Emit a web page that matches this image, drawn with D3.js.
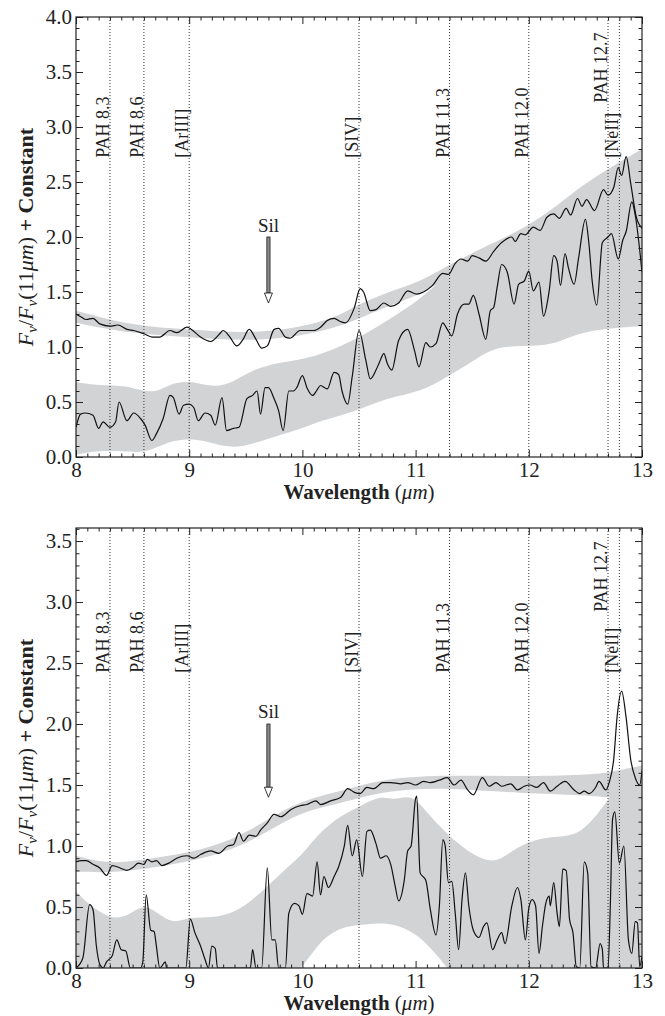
<!DOCTYPE html>
<html>
<head>
<meta charset="utf-8">
<script src="https://cdn.jsdelivr.net/npm/d3@7"></script>
<style>
  body { margin: 0; background: #fff; }
</style>
</head>
<body>
<div id="chart"></div>
<script>
// ---- data ----
const lineWaves = [8.3, 8.6, 9.0, 10.5, 11.3, 12.0, 12.7, 12.8];
const lineNames = ["PAH 8.3", "PAH 8.6", "[ArIII]", "[SIV]", "PAH 11.3", "PAH 12.0", "PAH 12.7", "[NeII]"];
const xTicks = [8, 9, 10, 11, 12, 13];
const silWave = 9.7;

// top panel: spectra [wavelength, flux]
const topUpper = [[8.0,1.30],[8.05,1.27],[8.09,1.25],[8.15,1.26],[8.21,1.21],[8.3,1.19],[8.37,1.20],[8.45,1.16],[8.51,1.15],[8.6,1.12],[8.68,1.09],[8.74,1.09],[8.83,1.15],[8.89,1.13],[8.98,1.18],[9.02,1.16],[9.1,1.09],[9.19,1.05],[9.27,1.12],[9.3,1.15],[9.36,1.09],[9.42,1.01],[9.47,1.06],[9.53,1.16],[9.59,1.07],[9.64,0.99],[9.69,1.01],[9.75,1.16],[9.79,1.17],[9.85,1.09],[9.89,1.08],[9.98,1.15],[10.1,1.15],[10.16,1.18],[10.22,1.24],[10.28,1.26],[10.34,1.23],[10.38,1.22],[10.46,1.36],[10.51,1.53],[10.54,1.50],[10.6,1.33],[10.65,1.34],[10.72,1.40],[10.78,1.37],[10.85,1.40],[10.93,1.51],[11.01,1.48],[11.07,1.50],[11.15,1.56],[11.24,1.67],[11.29,1.66],[11.35,1.76],[11.4,1.80],[11.46,1.78],[11.5,1.83],[11.56,1.81],[11.62,1.78],[11.69,1.87],[11.76,1.95],[11.85,2.0],[11.88,1.96],[11.93,2.03],[11.97,2.02],[12.04,2.09],[12.1,2.06],[12.16,2.18],[12.22,2.21],[12.27,2.17],[12.33,2.26],[12.37,2.20],[12.43,2.35],[12.47,2.28],[12.51,2.34],[12.58,2.24],[12.66,2.43],[12.7,2.38],[12.75,2.45],[12.79,2.63],[12.82,2.56],[12.86,2.73],[12.9,2.49],[12.95,2.18],[13.0,2.08]];
const topLower = [[8.0,0.27],[8.04,0.39],[8.08,0.40],[8.15,0.38],[8.2,0.26],[8.24,0.32],[8.3,0.27],[8.35,0.32],[8.38,0.50],[8.45,0.33],[8.51,0.40],[8.57,0.35],[8.61,0.29],[8.67,0.15],[8.71,0.21],[8.77,0.35],[8.83,0.56],[8.86,0.54],[8.91,0.39],[8.95,0.47],[9.0,0.48],[9.04,0.45],[9.08,0.33],[9.14,0.40],[9.19,0.38],[9.23,0.29],[9.29,0.54],[9.33,0.24],[9.39,0.26],[9.44,0.27],[9.51,0.53],[9.56,0.56],[9.6,0.60],[9.63,0.39],[9.67,0.63],[9.7,0.63],[9.75,0.53],[9.79,0.42],[9.83,0.24],[9.88,0.60],[9.92,0.60],[9.95,0.63],[10.0,0.74],[10.04,0.63],[10.09,0.56],[10.13,0.61],[10.16,0.65],[10.22,0.62],[10.28,0.77],[10.32,0.75],[10.35,0.60],[10.4,0.48],[10.44,0.73],[10.5,1.15],[10.56,0.88],[10.6,0.71],[10.65,0.79],[10.68,0.86],[10.72,0.94],[10.75,0.85],[10.79,0.79],[10.85,1.06],[10.93,1.16],[10.99,0.97],[11.03,0.82],[11.09,1.04],[11.13,1.0],[11.18,1.03],[11.24,1.22],[11.28,1.16],[11.32,1.10],[11.37,1.30],[11.43,1.39],[11.47,1.39],[11.51,1.47],[11.56,1.30],[11.62,1.07],[11.66,1.33],[11.69,1.36],[11.72,1.54],[11.76,1.75],[11.81,1.68],[11.87,1.39],[11.91,1.57],[11.96,1.60],[12.0,1.69],[12.04,1.51],[12.09,1.59],[12.13,1.28],[12.18,1.51],[12.22,1.83],[12.25,1.78],[12.28,1.56],[12.32,1.85],[12.35,1.72],[12.4,1.57],[12.44,1.81],[12.5,2.16],[12.53,1.95],[12.56,1.60],[12.6,1.38],[12.65,1.95],[12.7,2.0],[12.73,2.03],[12.79,1.80],[12.83,1.97],[12.86,2.05],[12.91,2.32],[12.94,2.20],[13.0,1.68]];
// top panel: envelopes [wavelength, low, high]
const topUpperBand = [[8.0,1.22,1.33],[8.5,1.12,1.19],[9.0,1.09,1.16],[9.5,1.05,1.12],[10.0,1.10,1.18],[10.3,1.18,1.27],[10.46,1.24,1.37],[10.75,1.37,1.50],[11.04,1.47,1.59],[11.3,1.65,1.75],[11.63,1.75,1.92],[12.0,1.85,2.10],[12.27,1.95,2.30],[12.46,2.0,2.46],[12.73,2.1,2.64],[13.0,2.2,2.80]];
const topLowerBand = [[8.0,0.02,0.68],[8.2,0.06,0.65],[8.45,0.05,0.65],[8.6,0.04,0.59],[8.74,0.10,0.60],[8.86,0.15,0.68],[9.04,0.17,0.69],[9.22,0.12,0.63],[9.39,0.08,0.68],[9.57,0.12,0.80],[9.8,0.20,0.86],[10.0,0.26,0.89],[10.16,0.33,0.93],[10.46,0.41,1.06],[10.75,0.54,1.24],[11.04,0.59,1.43],[11.28,0.73,1.66],[11.49,0.86,1.80],[11.69,1.0,1.92],[11.93,1.01,2.0],[12.22,1.01,2.15],[12.46,1.15,2.3],[13.0,1.19,2.6]];

// bottom panel: spectra
const botUpper = [[8.0,0.87],[8.05,0.88],[8.09,0.88],[8.15,0.85],[8.21,0.82],[8.27,0.76],[8.32,0.84],[8.39,0.82],[8.45,0.80],[8.51,0.83],[8.55,0.86],[8.6,0.85],[8.63,0.89],[8.67,0.87],[8.71,0.88],[8.76,0.84],[8.82,0.86],[8.89,0.90],[8.98,0.92],[9.04,0.90],[9.1,0.93],[9.19,0.96],[9.26,0.94],[9.34,1.0],[9.39,1.01],[9.44,1.11],[9.48,1.04],[9.53,1.09],[9.59,1.08],[9.63,1.13],[9.69,1.19],[9.75,1.26],[9.81,1.24],[9.9,1.30],[9.98,1.33],[10.04,1.34],[10.12,1.37],[10.16,1.34],[10.25,1.37],[10.34,1.40],[10.4,1.47],[10.46,1.44],[10.51,1.43],[10.57,1.48],[10.63,1.47],[10.71,1.52],[10.78,1.52],[10.87,1.51],[10.93,1.52],[11.0,1.50],[11.07,1.53],[11.13,1.52],[11.21,1.54],[11.28,1.56],[11.34,1.50],[11.4,1.54],[11.46,1.46],[11.51,1.42],[11.59,1.56],[11.65,1.49],[11.71,1.52],[11.76,1.49],[11.84,1.51],[11.9,1.46],[11.96,1.49],[12.01,1.50],[12.07,1.48],[12.13,1.52],[12.19,1.45],[12.25,1.49],[12.32,1.53],[12.4,1.46],[12.45,1.43],[12.49,1.45],[12.53,1.43],[12.59,1.48],[12.62,1.53],[12.68,1.46],[12.71,1.52],[12.75,1.71],[12.78,2.06],[12.82,2.27],[12.86,2.05],[12.9,1.71],[12.94,1.56],[12.98,1.50],[13.0,1.62]];
const botLower = [[8.0,0.0],[8.06,0.08],[8.12,0.52],[8.15,0.48],[8.18,0.18],[8.21,0.03],[8.24,0.0],[8.27,0.05],[8.32,0.10],[8.36,0.23],[8.4,0.15],[8.44,0.14],[8.48,0.0],[8.57,0.0],[8.59,0.05],[8.62,0.60],[8.66,0.31],[8.69,0.30],[8.71,0.18],[8.74,0.0],[8.79,0.05],[8.8,0.0],[8.97,0.0],[9.01,0.40],[9.05,0.29],[9.1,0.18],[9.14,0.07],[9.17,0.0],[9.2,0.18],[9.23,0.16],[9.25,0.0],[9.54,0.0],[9.56,0.15],[9.59,0.0],[9.64,0.0],[9.69,0.82],[9.73,0.23],[9.76,0.23],[9.79,0.0],[9.85,0.0],[9.88,0.45],[9.93,0.53],[9.97,0.51],[10.0,0.44],[10.04,0.61],[10.09,0.59],[10.13,0.87],[10.16,0.60],[10.19,0.75],[10.23,0.66],[10.28,0.75],[10.32,0.83],[10.37,1.0],[10.4,1.17],[10.44,0.92],[10.48,1.05],[10.53,0.75],[10.57,1.12],[10.6,1.13],[10.65,1.02],[10.69,0.90],[10.74,0.92],[10.78,0.85],[10.82,0.67],[10.85,0.55],[10.9,0.72],[10.93,0.96],[10.96,1.0],[11.0,1.39],[11.01,1.41],[11.04,0.78],[11.09,0.72],[11.13,0.48],[11.18,0.27],[11.21,0.51],[11.24,1.05],[11.26,1.01],[11.29,0.70],[11.32,0.71],[11.35,0.45],[11.38,0.15],[11.41,0.56],[11.44,0.78],[11.47,0.51],[11.51,0.31],[11.56,0.25],[11.6,0.34],[11.63,0.37],[11.68,0.15],[11.72,0.23],[11.76,0.29],[11.79,0.20],[11.85,0.51],[11.9,0.66],[11.93,0.56],[11.97,0.23],[12.0,0.49],[12.03,0.56],[12.06,0.51],[12.09,0.12],[12.12,0.34],[12.15,0.53],[12.18,0.59],[12.19,0.51],[12.22,0.70],[12.25,0.45],[12.27,0.34],[12.3,0.81],[12.33,0.80],[12.36,0.40],[12.39,0.29],[12.42,0.01],[12.45,0.0],[12.49,0.87],[12.52,0.78],[12.55,0.01],[12.59,0.0],[12.63,0.20],[12.65,0.15],[12.66,0.0],[12.7,0.0],[12.72,0.51],[12.74,1.22],[12.76,1.28],[12.8,0.86],[12.84,1.0],[12.88,0.23],[12.91,0.12],[12.94,0.38],[12.96,0.37],[12.98,0.01],[13.0,0.10]];
// bottom panel: envelopes
const botUpperBand = [[8.0,0.79,0.92],[8.3,0.78,0.85],[8.6,0.81,0.89],[9.0,0.87,0.94],[9.39,0.97,1.05],[9.7,1.12,1.22],[9.98,1.28,1.37],[10.34,1.35,1.45],[10.75,1.46,1.56],[11.3,1.48,1.58],[11.93,1.43,1.57],[12.51,1.42,1.58],[12.75,1.39,1.61],[13.0,1.40,1.66]];
const botLowerBand = [[8.0,-0.1,0.63],[8.1,-0.1,0.53],[8.3,-0.1,0.40],[8.45,-0.1,0.42],[8.6,-0.1,0.53],[8.72,-0.1,0.45],[8.86,-0.1,0.36],[9.0,-0.1,0.42],[9.2,-0.1,0.41],[9.39,-0.1,0.45],[9.57,-0.1,0.56],[9.87,-0.1,0.83],[10.0,0.0,0.93],[10.16,0.23,1.12],[10.34,0.33,1.25],[10.46,0.35,1.30],[10.69,0.37,1.42],[10.8,0.36,1.37],[10.97,0.30,1.43],[11.1,0.20,1.27],[11.28,0.01,1.10],[11.34,-0.1,1.05],[11.51,-0.1,0.92],[11.69,-0.1,0.86],[11.81,-0.1,0.93],[11.99,-0.1,1.04],[12.22,-0.1,1.08],[12.47,-0.1,1.08],[12.72,-0.1,1.41],[12.85,-0.1,1.55],[13.0,-0.1,1.60]];

// ---- layout ----
const W = 665, H = 1016;
const left = 76, right = 642;
const gray = "#d2d3d5";
const FONT = "'Liberation Serif', 'FreeSerif', 'DejaVu Serif'";

const svg = d3.select("#chart").append("svg")
  .attr("width", W).attr("height", H);

const x = d3.scaleLinear().domain([8, 13]).range([left, right]);
const minorX = d3.range(81, 130).map(d => d / 10).filter(d => d % 1 !== 0);

function drawPanel(p) {
  const y = d3.scaleLinear().domain([0, p.yMax]).range([p.bottom, p.top]);
  const g = svg.append("g");

  g.append("clipPath").attr("id", p.id)
    .append("rect").attr("x", left).attr("y", p.top)
    .attr("width", right - left).attr("height", p.bottom - p.top);
  const plot = g.append("g").attr("clip-path", `url(#${p.id})`);

  // envelopes
  const area = d3.area().curve(d3.curveBasis)
    .x(d => x(d[0])).y0(d => y(d[1])).y1(d => y(d[2]));
  [p.lowBand, p.upBand].forEach(b => {
    plot.append("path").datum(b).attr("d", area).attr("fill", gray);
  });

  // line markers
  plot.selectAll(".mk").data(lineWaves).enter().append("line")
    .attr("x1", d => x(d)).attr("x2", d => x(d))
    .attr("y1", p.top).attr("y2", p.bottom)
    .attr("stroke", "#333").attr("stroke-width", 1)
    .attr("stroke-dasharray", "1,2");

  // spectra
  const line = d3.line().curve(d3.curveMonotoneX)
    .x(d => x(d[0])).y(d => y(d[1]));
  [p.lowSpec, p.upSpec].forEach(s => {
    plot.append("path").datum(s).attr("d", line)
      .attr("fill", "none").attr("stroke", "#111").attr("stroke-width", 1.2);
  });

  // labels on markers
  lineNames.forEach((name, i) => {
    const yy = y(name === "PAH 12.7" ? p.labelHigh : p.labelLow);
    g.append("text")
      .attr("transform", `translate(${x(lineWaves[i]) - 1},${yy}) rotate(-90)`)
      .attr("font-size", 18)
      .text(name);
  });

  // Sil arrow
  const ax = x(silWave), y0 = y(2.0), tip = y(1.4);
  g.append("rect").attr("x", ax - 1.6).attr("y", y0)
    .attr("width", 3.2).attr("height", tip - 10 - y0)
    .attr("fill", "#8a8a8a").attr("stroke", "#222").attr("stroke-width", 0.8);
  g.append("path")
    .attr("d", `M${ax - 4},${tip - 10}L${ax + 4},${tip - 10}L${ax},${tip}Z`)
    .attr("fill", "#fff").attr("stroke", "#222").attr("stroke-width", 0.9);
  g.append("text").attr("x", ax).attr("y", y(2.05))
    .attr("text-anchor", "middle").attr("font-size", 19).text("Sil");

  // axes: inward ticks on all sides
  const yMajor = d3.range(0, p.yMax + 0.001, 0.5);
  const yMinor = d3.range(1, Math.floor(p.yMax * 10) + 1).map(d => d / 10)
    .filter(d => Math.abs(d * 2 - Math.round(d * 2)) > 1e-6);
  const fmt = d3.format(".1f");

  g.append("g").attr("transform", `translate(0,${p.bottom})`)
    .call(d3.axisBottom(x).tickValues(xTicks).tickSize(-7).tickPadding(5).tickFormat(d3.format("d")));
  g.append("g").attr("transform", `translate(0,${p.bottom})`)
    .call(d3.axisBottom(x).tickValues(minorX).tickSize(-3.5).tickFormat(""));
  g.append("g").attr("transform", `translate(0,${p.top})`)
    .call(d3.axisTop(x).tickValues(xTicks).tickSize(-7).tickFormat(""));
  g.append("g").attr("transform", `translate(0,${p.top})`)
    .call(d3.axisTop(x).tickValues(minorX).tickSize(-3.5).tickFormat(""));
  g.append("g").attr("transform", `translate(${left},0)`)
    .call(d3.axisLeft(y).tickValues(yMajor).tickSize(-7).tickPadding(4).tickFormat(fmt));
  g.append("g").attr("transform", `translate(${left},0)`)
    .call(d3.axisLeft(y).tickValues(yMinor).tickSize(-3.5).tickFormat(""));
  g.append("g").attr("transform", `translate(${right},0)`)
    .call(d3.axisRight(y).tickValues(yMajor).tickSize(-7).tickFormat(""));
  g.append("g").attr("transform", `translate(${right},0)`)
    .call(d3.axisRight(y).tickValues(yMinor).tickSize(-3.5).tickFormat(""));

  g.selectAll(".domain").remove();
  g.selectAll(".tick line").attr("stroke", "#222").attr("stroke-width", 1);
  g.selectAll(".tick text").attr("font-size", 21);

  g.append("rect").attr("x", left).attr("y", p.top)
    .attr("width", right - left).attr("height", p.bottom - p.top)
    .attr("fill", "none").attr("stroke", "#222").attr("stroke-width", 1.2);

  // axis titles
  const xt = g.append("text").attr("x", (left + right) / 2).attr("y", p.bottom + 42)
    .attr("text-anchor", "middle").attr("font-size", 21);
  xt.append("tspan").attr("font-weight", "bold").text("Wavelength ");
  xt.append("tspan").text("(");
  xt.append("tspan").attr("font-style", "italic").text("μm");
  xt.append("tspan").text(")");

  const yt = g.append("text")
    .attr("transform", `translate(33,${(p.top + p.bottom) / 2}) rotate(-90)`)
    .attr("text-anchor", "middle").attr("font-size", 22);
  yt.append("tspan").attr("font-style", "italic").text("F");
  yt.append("tspan").attr("font-style", "italic").attr("font-size", 15).attr("dy", 4).text("ν");
  yt.append("tspan").attr("dy", -4).text("/");
  yt.append("tspan").attr("font-style", "italic").text("F");
  yt.append("tspan").attr("font-style", "italic").attr("font-size", 15).attr("dy", 4).text("ν");
  yt.append("tspan").attr("dy", -4).text("(11");
  yt.append("tspan").attr("font-style", "italic").text("μm");
  yt.append("tspan").text(") ");
  yt.append("tspan").attr("font-weight", "bold").text("+ Constant");
}

drawPanel({ id: "clipTop", top: 17, bottom: 457, yMax: 4.0, labelLow: 2.72, labelHigh: 3.22,
  upSpec: topUpper, lowSpec: topLower, upBand: topUpperBand, lowBand: topLowerBand });
drawPanel({ id: "clipBot", top: 528, bottom: 968, yMax: 3.607, labelLow: 2.42, labelHigh: 2.92,
  upSpec: botUpper, lowSpec: botLower, upBand: botUpperBand, lowBand: botLowerBand });

// serif everywhere (inline style beats the axis' sans-serif attribute)
svg.selectAll("text").style("font-family", FONT).style("fill", "#222");
</script>
</body>
</html>
